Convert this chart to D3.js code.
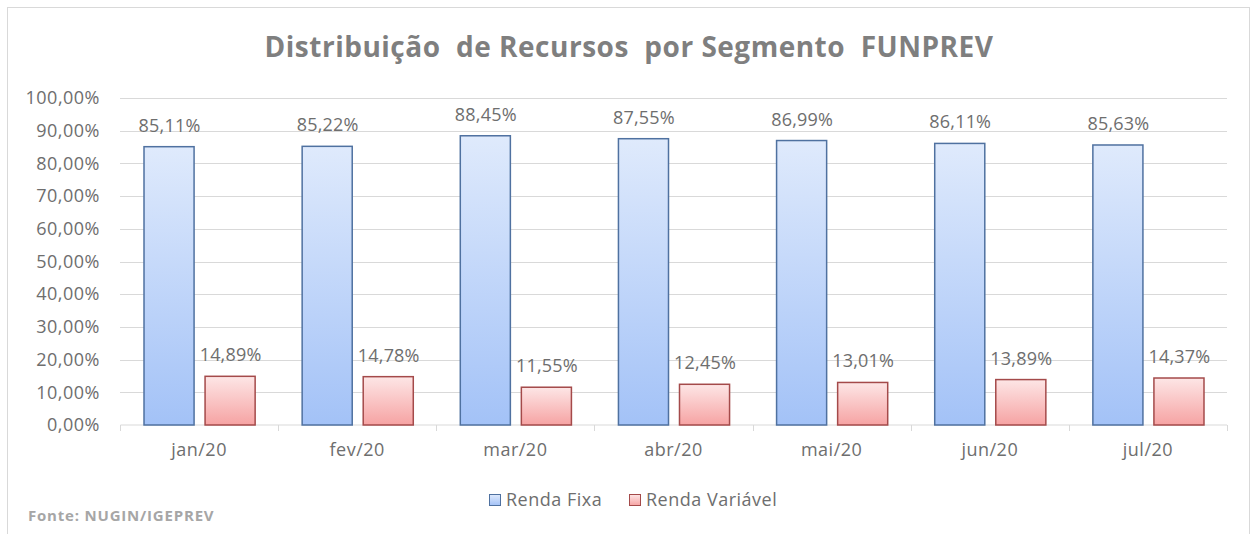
<!DOCTYPE html>
<html>
<head>
<meta charset="utf-8">
<script src="https://cdn.jsdelivr.net/npm/d3@7"></script>
<style>
  body { margin: 0; background: #fff; }
  text { font-family: "Open Sans", "DejaVu Sans", sans-serif; }
</style>
</head>
<body>
<div id="chart"></div>
<script>
var months = ["jan/20", "fev/20", "mar/20", "abr/20", "mai/20", "jun/20", "jul/20"];
var seriesNames = ["Renda Fixa", "Renda Variável"];
var rendaFixa = [85.11, 85.22, 88.45, 87.55, 86.99, 86.11, 85.63];
var rendaVariavel = [14.89, 14.78, 11.55, 12.45, 13.01, 13.89, 14.37];
var yTicks = [0, 10, 20, 30, 40, 50, 60, 70, 80, 90, 100];

var svgWidth = 1259;
var svgHeight = 534;

var margin = { top: 98, right: 32, bottom: 109, left: 120 };
var width = svgWidth - margin.left - margin.right;
var height = svgHeight - margin.top - margin.bottom;

var fmt = v => v.toFixed(2).replace(".", ",") + "%";
var textColor = "#6e6e6e";

var svg = d3.select("#chart")
    .append("svg")
    .attr("width", svgWidth)
    .attr("height", svgHeight);

// gradients for the bars
var defs = svg.append("defs");
var gradBlue = defs.append("linearGradient").attr("id", "gBlue")
    .attr("x1", 0).attr("y1", 0).attr("x2", 0).attr("y2", 1);
gradBlue.append("stop").attr("offset", "0%").attr("stop-color", "#dfeafc");
gradBlue.append("stop").attr("offset", "100%").attr("stop-color", "#a3c2f7");
var gradRed = defs.append("linearGradient").attr("id", "gRed")
    .attr("x1", 0).attr("y1", 0).attr("x2", 0).attr("y2", 1);
gradRed.append("stop").attr("offset", "0%").attr("stop-color", "#fde6e6");
gradRed.append("stop").attr("offset", "100%").attr("stop-color", "#f6a3a3");

var fills = ["url(#gBlue)", "url(#gRed)"];
var strokes = ["#4f71a0", "#a44a4a"];

// outer frame
svg.append("rect")
    .attr("x", 7.5).attr("y", 7.5)
    .attr("width", 1242).attr("height", 540)
    .attr("fill", "#fff")
    .attr("stroke", "#d9d9d9");

var chartGroup = svg.append("g")
    .attr("transform", `translate(${margin.left}, ${margin.top})`);

var x0 = d3.scaleBand()
    .domain(months)
    .range([0, width])
    .padding(0);

var x1 = d3.scaleBand()
    .domain(seriesNames)
    .range([0, x0.bandwidth()])
    .paddingInner(0.18)
    .paddingOuter(0.385);

var y = d3.scaleLinear()
    .domain([0, 100])
    .range([height, 0]);

// gridlines
chartGroup.append("g")
    .selectAll("line")
    .data(yTicks.slice(1))
    .enter()
    .append("line")
    .attr("x1", 0).attr("x2", width)
    .attr("y1", d => Math.round(y(d)) + 0.5)
    .attr("y2", d => Math.round(y(d)) + 0.5)
    .attr("stroke", "#d9d9d9");

// y axis labels
var leftAxis = d3.axisLeft(y)
    .tickValues(yTicks)
    .tickFormat(fmt)
    .tickSize(0)
    .tickPadding(20);

var yAxis = chartGroup.append("g").call(leftAxis);
yAxis.select(".domain").remove();
yAxis.selectAll("text")
    .attr("font-size", "18px")
    .attr("letter-spacing", "0.5px")
    .attr("fill", textColor);

// x axis
var bottomAxis = d3.axisBottom(x0).tickSize(0).tickPadding(18);
var xAxis = chartGroup.append("g")
    .attr("transform", `translate(0, ${height})`)
    .call(bottomAxis);
xAxis.select(".domain").attr("stroke", "#d9d9d9").attr("d", `M0.5,0H${width}`);
xAxis.selectAll("text")
    .attr("font-size", "18px")
    .attr("letter-spacing", "0.5px")
    .attr("fill", textColor);

// category boundary ticks
chartGroup.append("g")
    .selectAll("line")
    .data(months.concat(["end"]))
    .enter()
    .append("line")
    .attr("x1", (d, i) => Math.round(i * x0.step()) + 0.5)
    .attr("x2", (d, i) => Math.round(i * x0.step()) + 0.5)
    .attr("y1", height)
    .attr("y2", height + 6)
    .attr("stroke", "#d9d9d9");

// bars
var data = months.map((m, i) => ({ month: m, values: [rendaFixa[i], rendaVariavel[i]] }));

var groups = chartGroup.selectAll(".grp")
    .data(data)
    .enter()
    .append("g")
    .attr("transform", d => `translate(${x0(d.month)}, 0)`);

groups.selectAll("rect")
    .data(d => d.values.map((v, j) => ({ key: seriesNames[j], v: v, j: j })))
    .enter()
    .append("rect")
    .attr("x", d => x1(d.key) + 0.5)
    .attr("y", d => y(d.v))
    .attr("width", x1.bandwidth())
    .attr("height", d => height - y(d.v))
    .attr("fill", d => fills[d.j])
    .attr("stroke", d => strokes[d.j])
    .attr("stroke-width", 1.5);

groups.selectAll(".lbl")
    .data(d => d.values.map((v, j) => ({ key: seriesNames[j], v: v, j: j })))
    .enter()
    .append("text")
    .attr("x", d => x1(d.key) + x1.bandwidth() / 2 + 1)
    .attr("y", d => y(d.v) - 15)
    .attr("text-anchor", "middle")
    .attr("font-size", "18px")
    .attr("letter-spacing", "0.2px")
    .attr("fill", textColor)
    .text(d => fmt(d.v));

// title
svg.append("text")
    .attr("x", 629)
    .attr("y", 57)
    .attr("text-anchor", "middle")
    .attr("font-size", "28px")
    .attr("font-weight", "bold")
    .attr("letter-spacing", "0.5px")
    .attr("fill", "#7f7f7f")
    .style("white-space", "pre")
    .text("Distribuição  de Recursos  por Segmento  FUNPREV");

// legend
var legend = svg.append("g").attr("transform", "translate(489, 494)");
var legendX = [0, 140];
seriesNames.forEach((s, i) => {
    legend.append("rect")
        .attr("x", legendX[i] + 0.5).attr("y", 0.5)
        .attr("width", 11).attr("height", 11)
        .attr("fill", fills[i])
        .attr("stroke", strokes[i]);
    legend.append("text")
        .attr("x", legendX[i] + 17)
        .attr("y", 12)
        .attr("font-size", "18px")
        .attr("letter-spacing", "0.5px")
        .attr("fill", textColor)
        .text(s);
});

// source
svg.append("text")
    .attr("x", 28)
    .attr("y", 521)
    .attr("font-size", "15px")
    .attr("font-weight", "bold")
    .attr("letter-spacing", "0.8px")
    .attr("fill", "#a6a6a6")
    .text("Fonte: NUGIN/IGEPREV");
</script>
</body>
</html>
